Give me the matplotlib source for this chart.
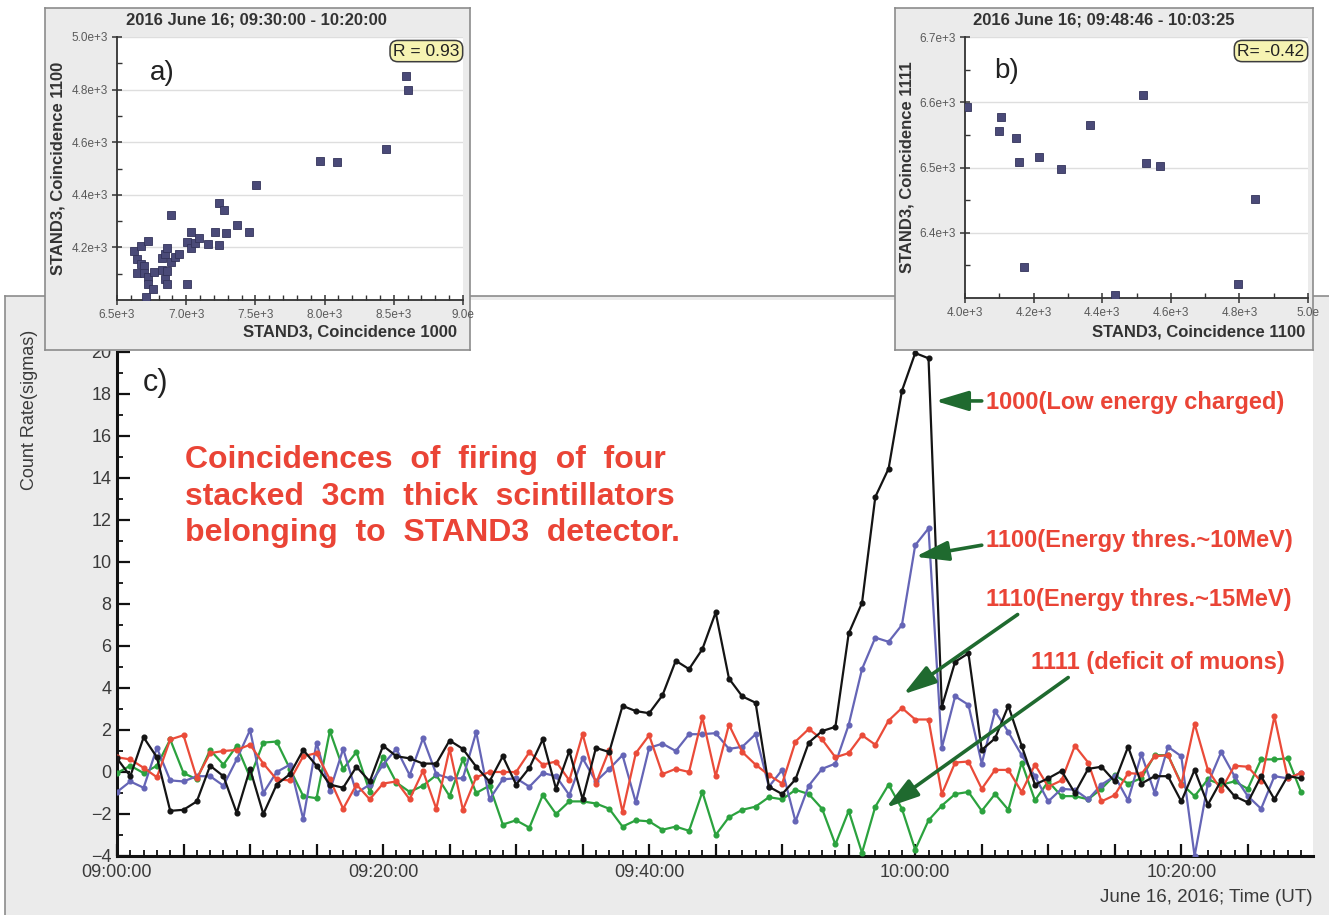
import numpy as np
import pandas as pd
import matplotlib
matplotlib.use("Agg")
import matplotlib.pyplot as plt
import matplotlib.dates as mdates
from matplotlib.ticker import FixedLocator, FuncFormatter

plt.rcParams["font.family"] = ["Liberation Sans", "DejaVu Sans"]

# ---- panel c: one-minute count rates (sigmas) of STAND3 coincidences ----
times = pd.date_range("2016-06-16 09:00", periods=90, freq="min")

rate_1000 = [0.65, -0.2, 1.65, 0.7, -1.85, -1.8, -1.4, 0.3, -0.2, -1.95,
             0.15, -2.0, -0.6, -0.1, 1.05, 0.3, -0.6, -0.75, 0.25, -0.45,
             1.25, 0.75, 0.65, 0.4, 0.4, 1.5, 1.1, 0.25, -0.45, 0.75,
             -0.6, 0.2, 1.55, -0.8, 1.0, -1.3, 1.15, 0.95, 3.15, 2.9,
             2.8, 3.65, 5.3, 4.9, 5.85, 7.6, 4.45, 3.6, 3.3, -0.7,
             -1.05, -0.35, 1.4, 1.95, 2.15, 6.6, 8.05, 13.1, 14.45, 18.15,
             19.95, 19.7, 3.1, 5.25, 5.65, 1.05, 1.6, 3.15, 1.25, -0.6,
             -0.3, 0.05, -1.0, 0.15, 0.25, -0.45, 1.2, -0.55, -0.2, -0.2,
             -1.4, 0.1, -1.55, -0.4, -1.15, -1.45, -0.2, -1.3, -0.2, -0.3]

rate_1100 = [-0.95, -0.45, -0.75, 1.15, -0.4, -0.45, -0.2, -0.2, -0.65, 0.6,
             2.0, -1.0, 0.0, 0.35, -2.25, 1.4, -0.9, 1.1, -1.0, -0.6,
             0.35, 1.1, -0.15, 1.6, -0.1, -0.3, -0.3, 1.9, -1.3, -0.35,
             -0.3, -0.7, -0.05, -0.2, -1.1, 0.65, -0.45, 0.15, 0.8, -1.45,
             1.15, 1.35, 1.0, 1.8, 1.8, 1.85, 1.1, 1.2, 1.8, -0.7,
             0.1, -2.35, -0.65, 0.15, 0.4, 2.25, 4.9, 6.4, 6.2, 7.0,
             10.8, 11.6, 1.15, 3.6, 3.2, 0.4, 2.9, 1.9, 0.8, -0.2,
             -1.4, -0.8, -0.85, -1.3, -0.6, -0.2, -1.35, 0.85, -1.0, 1.2,
             0.75, -4.0, -0.55, 0.95, -0.2, -1.15, -1.75, -0.2, -0.3, -0.05]

rate_1110 = [0.7, 0.6, 0.2, -0.25, 1.55, 1.75, -0.3, 0.9, 1.0, 1.05,
             1.3, 0.4, -0.35, -0.4, 0.75, 0.9, -0.35, -1.75, -0.6, -1.3,
             -0.55, -0.45, -1.3, 0.05, -1.75, 1.1, -1.8, -0.25, 0.0, 0.0,
             0.0, 0.95, 0.35, 0.5, -0.4, 1.8, -0.55, 1.05, -1.9, 0.9,
             1.75, -0.1, 0.15, 0.0, 2.6, -0.2, 2.25, 0.95, 0.35, -0.15,
             -0.55, 1.45, 2.05, 1.55, 0.7, 0.9, 1.75, 1.3, 2.45, 3.05,
             2.5, 2.5, -1.05, 0.45, 0.5, -0.8, 0.1, 0.1, -0.95, 0.35,
             -0.7, -0.4, 1.25, 0.45, -1.4, -1.1, -0.05, -0.1, 0.75, 0.8,
             -0.6, 2.3, 0.1, -0.85, 0.3, 0.25, -0.45, 2.65, -0.3, -0.05]

rate_1111 = [-0.05, 0.3, -0.05, 0.3, 1.55, -0.05, -0.35, 1.05, 0.35, 1.25,
             -0.25, 1.4, 1.45, 0.15, -1.15, -1.25, 1.95, 0.15, 0.95, -0.95,
             0.7, -0.5, -0.95, -0.65, -0.15, -1.15, 0.6, -1.0, -0.65, -2.5,
             -2.3, -2.65, -1.1, -2.0, -1.4, -1.4, -1.5, -1.75, -2.6, -2.3,
             -2.35, -2.75, -2.6, -2.8, -0.95, -3.0, -2.15, -1.8, -1.65, -1.2,
             -1.3, -0.85, -1.05, -1.75, -3.45, -1.85, -3.85, -1.65, -0.6, -1.75,
             -3.7, -2.3, -1.6, -1.05, -0.95, -1.85, -1.05, -1.8, 0.45, -1.35,
             -0.45, -1.15, -1.15, -1.3, -0.8, -0.15, -0.55, -0.3, 0.8, 0.8,
             -0.55, -1.15, -0.35, -0.6, -0.45, -0.8, 0.6, 0.6, 0.65, -0.95]

# ---- panel a: coincidence 1000 vs 1100, 09:30 - 10:20 ----
a_1000 = [6623, 6647, 6676, 6695, 6676, 6727, 6647, 6695, 6727, 6727,
          6761, 6713, 6765, 6827, 6844, 6863, 6825, 6863, 6844, 6863,
          6887, 6921, 6947, 6892, 7008, 7008, 7037, 7037, 7061, 7090,
          7159, 7207, 7236, 7236, 7274, 7291, 7364, 7455, 7503, 7967,
          8088, 8443, 8587, 8606]
a_1100 = [4185, 4154, 4137, 4131, 4204, 4225, 4103, 4103, 4088, 4060,
          4040, 4013, 4106, 4160, 4176, 4198, 4113, 4110, 4080, 4062,
          4144, 4162, 4176, 4323, 4062, 4221, 4260, 4198, 4217, 4234,
          4214, 4258, 4209, 4367, 4342, 4255, 4284, 4258, 4437, 4529,
          4526, 4573, 4851, 4799]

# ---- panel b: coincidence 1100 vs 1111, 09:48:46 - 10:03:25 ----
b_1100 = [4007, 4105, 4098, 4149, 4158, 4217, 4279, 4365, 4520, 4528,
          4569, 4846, 4172, 4436, 4795]
b_1111 = [6592, 6578, 6556, 6545, 6509, 6516, 6497, 6565, 6611, 6507,
          6503, 6452, 6348, 6305, 6322]

a_xticks = [6500, 7000, 7500, 8000, 8500, 9000]
a_xlabels = ["6.5e+3", "7.0e+3", "7.5e+3", "8.0e+3", "8.5e+3", "9.0e"]
a_yticks = [4200, 4400, 4600, 4800, 5000]
a_ylabels = ["4.2e+3", "4.4e+3", "4.6e+3", "4.8e+3", "5.0e+3"]
b_xticks = [4000, 4200, 4400, 4600, 4800, 5000]
b_xlabels = ["4.0e+3", "4.2e+3", "4.4e+3", "4.6e+3", "4.8e+3", "5.0e"]
b_yticks = [6400, 6500, 6600, 6700]
b_ylabels = ["6.4e+3", "6.5e+3", "6.6e+3", "6.7e+3"]

W, H = 1329, 915
PANEL = "#ebebeb"
FRAME = "#8c8c8c"
RED = "#ea4436"
ARROW = "#1f6a2f"
TICK_TXT = "#3a3a3a"

fig = plt.figure(figsize=(W / 100, H / 100), dpi=100)
fig.patch.set_facecolor("white")


def box(x0, y0, x1, y1):
    """pixel box measured from the top-left -> add_axes rect"""
    return [x0 / W, 1 - y1 / H, (x1 - x0) / W, (y1 - y0) / H]


def fpos(x, y):
    return x / W, 1 - y / H


def frame(rect):
    f = fig.add_axes(rect)
    f.set_facecolor(PANEL)
    f.set_xticks([])
    f.set_yticks([])
    for s in f.spines.values():
        s.set_color(FRAME)
        s.set_linewidth(1.2)
    return f


# ---------------- main time series panel ----------------
frame(box(5, 296, W + 3, H + 3))

ax = fig.add_axes(box(117, 300, 1313, 856))
ax.set_facecolor("white")
ax.set_ylim(-4, 20 + 52 / 21)
t0 = times[0]
ax.set_xlim(t0, t0 + pd.Timedelta(minutes=89.9))

for vals, col in [(rate_1111, "#2ba23e"), (rate_1100, "#6565b6"),
                  (rate_1110, "#ea4b39"), (rate_1000, "#141414")]:
    ax.plot(times, vals, color=col, lw=1.6, marker="o", ms=3.4,
            mfc=col, mec=col, zorder=3)

for side in ("top", "right"):
    ax.spines[side].set_visible(False)
ax.spines["left"].set_bounds(-4, 20)
for side in ("left", "bottom"):
    ax.spines[side].set_linewidth(2.2)
    ax.spines[side].set_color("#111111")

ax.yaxis.set_major_locator(FixedLocator(np.arange(-4, 21, 2)))
ax.yaxis.set_minor_locator(FixedLocator(np.arange(-3, 20, 2)))
ax.xaxis.set_major_locator(mdates.MinuteLocator(byminute=range(0, 60, 5)))
ax.xaxis.set_minor_locator(mdates.MinuteLocator())


def time_label(v, pos):
    d = mdates.num2date(v)
    return d.strftime("%H:%M:%S") if d.minute % 20 == 0 else ""


ax.xaxis.set_major_formatter(FuncFormatter(time_label))
ax.tick_params(axis="both", which="major", direction="in", length=9,
               width=1.6, color="#111111", labelsize=13, labelcolor=TICK_TXT)
ax.tick_params(axis="both", which="minor", direction="in", length=4.5,
               width=1.3, color="#111111")
ax.tick_params(axis="x", pad=6)
ax.tick_params(axis="y", pad=4)

fig.text(*fpos(30, 410), "Count Rate(sigmas)", rotation=90, ha="center",
         va="center", fontsize=13, color=TICK_TXT)
fig.text(*fpos(1312, 897), "June 16, 2016; Time (UT)", ha="right",
         va="center", fontsize=13.5, color=TICK_TXT)
fig.text(*fpos(143, 383), "c)", ha="left", va="center", fontsize=22,
         color="#222222")

for y, line in zip([460, 497, 533],
                   ["Coincidences  of  firing  of  four",
                    "stacked  3cm  thick  scintillators",
                    "belonging  to  STAND3  detector."]):
    fig.text(*fpos(185, y), line, ha="left", va="center", fontsize=23,
             fontweight="bold", color=RED)


def at(minute):
    return mdates.date2num((t0 + pd.Timedelta(minutes=minute)).to_pydatetime())


# (label, label position, arrow tail, arrow head) in minutes / sigmas
notes = [
    ("1000(Low energy charged)", (65.3, 17.6), (65.0, 17.67), (61.5, 17.67)),
    ("1100(Energy thres.~10MeV)", (65.3, 11.0), (65.0, 10.8), (60.0, 10.25)),
    ("1110(Energy thres.~15MeV)", (65.3, 8.2), (67.7, 7.5), (59.1, 3.7)),
    ("1111 (deficit of muons)", (68.7, 5.2), (71.5, 4.5), (57.8, -1.7)),
]
for text, (lx, ly), (tx, ty), (hx, hy) in notes:
    ax.text(at(lx), ly, text, ha="left", va="center", fontsize=17,
            fontweight="bold", color=RED, zorder=5)
    ax.annotate("", xy=(at(hx), hy), xytext=(at(tx), ty),
                arrowprops=dict(arrowstyle="-|>,head_length=1.0,head_width=0.3",
                                mutation_scale=20, color=ARROW, lw=2.6,
                                shrinkA=0, shrinkB=0), zorder=6)


# ---------------- scatter insets ----------------
def inset(outer, inner, xs, ys, xlim, ylim, xt, xl, yt, yl, xminor, yminor,
          title, title_x, xlabel, xlabel_right, ylabel, ylabel_x, tag,
          tag_xy, r_text):
    frame(box(*outer))
    a = fig.add_axes(box(*inner))
    a.set_facecolor("white")
    a.set_xlim(*xlim)
    a.set_ylim(*ylim)
    a.yaxis.grid(True, color="#dedede", lw=1.0)
    a.set_axisbelow(True)
    a.plot(xs, ys, ls="none", marker="s", ms=5.5, mfc="#4a4a78",
           mec="#33335a", mew=0.6, zorder=3)
    a.set_xticks(xt, xl)
    a.set_yticks(yt, yl)
    a.xaxis.set_minor_locator(FixedLocator(xminor))
    a.yaxis.set_minor_locator(FixedLocator(yminor))
    for side in ("top", "right"):
        a.spines[side].set_visible(False)
    for side in ("left", "bottom"):
        a.spines[side].set_color("#333333")
        a.spines[side].set_linewidth(1.3)
    a.tick_params(which="major", direction="inout", length=7, width=1.1,
                  color="#333333", labelsize=8.5, labelcolor="#5a5a5a", pad=3)
    a.tick_params(which="minor", direction="in", length=3.5, width=1.0,
                  color="#333333")
    a.text(*tag_xy, tag, transform=a.transAxes, ha="left", va="center",
           fontsize=20, color="#222222")
    a.text(0.99, 0.975, r_text, transform=a.transAxes, ha="right", va="top",
           fontsize=12.5, color="#222222",
           bbox=dict(boxstyle="round,pad=0.18,rounding_size=0.45",
                     fc="#f6f3b2", ec="#3c3c3c", lw=1.1))
    fig.text(*fpos(title_x, 20), title, ha="center", va="center",
             fontsize=12, fontweight="bold", color="#333333")
    fig.text(*fpos(xlabel_right, 332), xlabel, ha="right", va="center",
             fontsize=12, fontweight="bold", color="#333333")
    mid = (inner[1] + inner[3]) / 2
    fig.text(*fpos(ylabel_x, mid), ylabel, rotation=90,
             ha="center", va="center", fontsize=12, fontweight="bold",
             color="#333333")
    return a


inset((45, 8, 470, 350), (117, 37, 463, 300), a_1000, a_1100,
      (6500, 9000), (4000, 5000), a_xticks, a_xlabels, a_yticks, a_ylabels,
      np.arange(6600, 9000, 100), np.arange(4100, 5000, 100),
      "2016 June 16; 09:30:00 - 10:20:00", 256,
      "STAND3, Coincidence 1000", 457, "STAND3, Coincidence 1100", 58,
      "a)", (0.095, 0.865), "R = 0.93")

inset((895, 8, 1313, 350), (965, 37, 1308, 298), b_1100, b_1111,
      (4000, 5000), (6300, 6700), b_xticks, b_xlabels, b_yticks, b_ylabels,
      np.arange(4100, 5000, 100), np.arange(6350, 6700, 100),
      "2016 June 16; 09:48:46 - 10:03:25", 1104,
      "STAND3, Coincidence 1100", 1305, "STAND3, Coincidence 1111", 907,
      "b)", (0.085, 0.87), "R= -0.42")

fig.savefig("out.png", dpi=100, facecolor=fig.get_facecolor())
